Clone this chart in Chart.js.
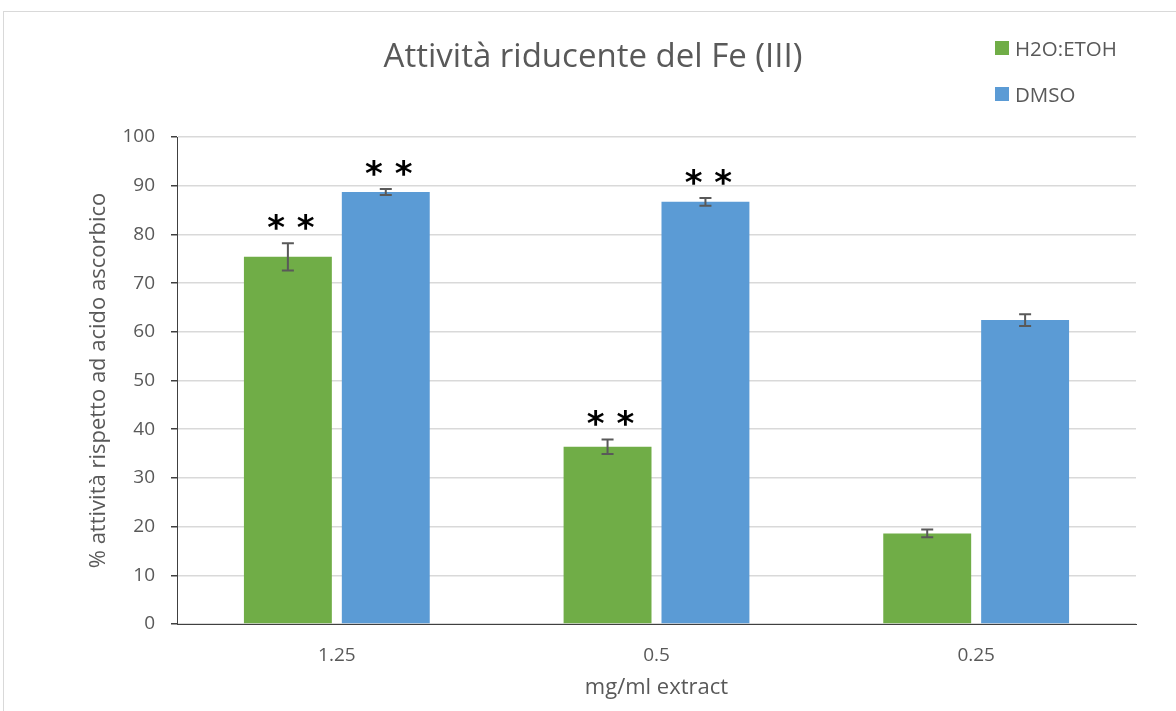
<!DOCTYPE html>
<html>
<head>
<meta charset="utf-8">
<script src="https://cdn.jsdelivr.net/npm/chart.js@4.4.1/dist/chart.umd.min.js"></script>
<style>
  html, body { margin: 0; padding: 0; background: #ffffff; overflow: hidden; }
  #frame { position: absolute; left: 3px; top: 11px; width: 1300px; height: 900px; border-left: 1px solid #d9d9d9; border-top: 1px solid #d9d9d9; }
  #wrap { position: absolute; left: 0; top: 0; width: 1176px; height: 711px; }
</style>
</head>
<body>
<div id="frame"></div>
<div id="wrap"><canvas id="c" width="1176" height="711"></canvas></div>
<script>
const chartTitle = 'Attività riducente del Fe (III)';
const xTitle = 'mg/ml extract';
const yTitle = '% attività rispetto ad acido ascorbico';
const categories = ['1.25', '0.5', '0.25'];
const seriesNames = ['H2O:ETOH', 'DMSO'];
const h2oValues = [75.4, 36.4, 18.6];
const h2oErrors = [2.8, 1.5, 0.8];
const h2oMarks = ['**', '**', ''];
const dmsoValues = [88.7, 86.7, 62.4];
const dmsoErrors = [0.6, 0.8, 1.2];
const dmsoMarks = ['**', '**', ''];

const GREEN = '#70ad47';
const BLUE = '#5b9bd5';
const TEXT = '#595959';
const FONT = "'Open Sans', 'Noto Sans', sans-serif";

const errorBarPlugin = {
  id: 'errorBars',
  afterDatasetsDraw(chart) {
    const ctx = chart.ctx;
    const yScale = chart.scales.y;
    chart.data.datasets.forEach((ds, i) => {
      const meta = chart.getDatasetMeta(i);
      meta.data.forEach((el, j) => {
        const v = ds.data[j];
        const e = ds.errors[j];
        const yTop = yScale.getPixelForValue(v + e);
        const yBot = yScale.getPixelForValue(v - e);
        const x = el.x;
        ctx.save();
        ctx.strokeStyle = '#595959';
        ctx.lineWidth = 2;
        ctx.beginPath();
        ctx.moveTo(x, yTop); ctx.lineTo(x, yBot);
        ctx.moveTo(x - 6, yTop); ctx.lineTo(x + 6, yTop);
        ctx.moveTo(x - 6, yBot); ctx.lineTo(x + 6, yBot);
        ctx.stroke();
        const mark = ds.marks[j];
        if (mark) {
          ctx.fillStyle = '#000000';
          ctx.font = "bold 34px 'DejaVu Sans', sans-serif";
          ctx.textAlign = 'center';
          ctx.textBaseline = 'middle';
          const txt = mark.split('').join(' ');
          ctx.fillText(txt, x + 3, yTop - 13);
        }
        ctx.restore();
      });
    });
  }
};

const decorPlugin = {
  id: 'decor',
  afterDraw(chart) {
    const ctx = chart.ctx;
    ctx.save();
    ctx.fillStyle = TEXT;
    ctx.font = '33px ' + FONT;
    ctx.textAlign = 'center';
    ctx.textBaseline = 'alphabetic';
    ctx.fillText(chartTitle, 593, 67);
    const colors = [GREEN, BLUE];
    const baselines = [56, 102];
    ctx.font = '20.5px ' + FONT;
    ctx.textAlign = 'left';
    seriesNames.forEach((n, i) => {
      ctx.fillStyle = colors[i];
      ctx.fillRect(995, baselines[i] - 15, 14, 14);
      ctx.fillStyle = TEXT;
      ctx.fillText(n, 1015, baselines[i]);
    });
    ctx.restore();
  }
};

new Chart(document.getElementById('c'), {
  type: 'bar',
  data: {
    labels: categories,
    datasets: [
      { label: seriesNames[0], data: h2oValues, errors: h2oErrors, marks: h2oMarks, backgroundColor: GREEN, borderWidth: 0 },
      { label: seriesNames[1], data: dmsoValues, errors: dmsoErrors, marks: dmsoMarks, backgroundColor: BLUE, borderWidth: 0 }
    ]
  },
  options: {
    responsive: false,
    animation: false,
    layout: { padding: { top: 137, right: 40, left: 0, bottom: 0 } },
    datasets: { bar: { categoryPercentage: 0.6125, barPercentage: 0.898 } },
    plugins: { legend: { display: false }, tooltip: { enabled: false }, title: { display: false } },
    scales: {
      x: {
        grid: { display: false, drawTicks: false },
        border: { display: true, color: '#404040', width: 1 },
        ticks: { color: TEXT, font: { family: FONT, size: 19 }, padding: 20 },
        title: { display: true, text: xTitle, color: TEXT, font: { family: FONT, size: 22 }, padding: { top: 0, bottom: 10 } },
        afterFit(s) { s.height = 87; }
      },
      y: {
        min: 0, max: 100,
        ticks: { stepSize: 10, color: TEXT, font: { family: FONT, size: 19 }, padding: 16 },
        grid: { color: '#d9d9d9', lineWidth: 1.5, tickColor: '#404040', tickLength: 6 },
        border: { display: true, color: '#404040', width: 1 },
        title: { display: true, text: yTitle, color: TEXT, font: { family: FONT, size: 22 }, padding: { top: 86, bottom: 0 } },
        afterFit(s) { s.width = 177; }
      }
    }
  },
  plugins: [errorBarPlugin, decorPlugin]
});
</script>
</body>
</html>
